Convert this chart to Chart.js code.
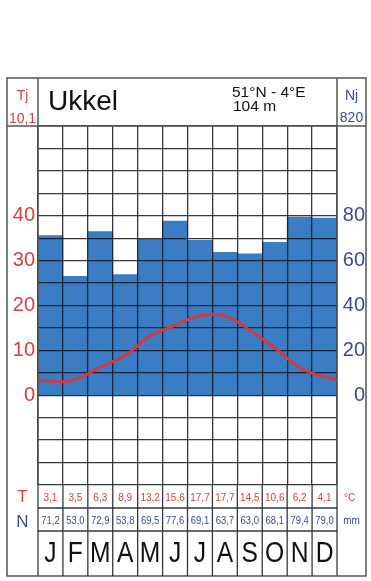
<!DOCTYPE html>
<html>
<head>
<meta charset="utf-8">
<script src="https://cdn.jsdelivr.net/npm/chart.js@4.4.1/dist/chart.umd.min.js"></script>
<style>
  html, body { margin: 0; padding: 0; background: #fff; }
  canvas { display: block; }
</style>
</head>
<body>
<canvas id="klimaat" width="371" height="581"></canvas>
<script>
var station = 'Ukkel';
var coords = '51°N - 4°E';
var altitude = '104 m';
var months = ['J', 'F', 'M', 'A', 'M', 'J', 'J', 'A', 'S', 'O', 'N', 'D'];
var tempC = [3.1, 3.5, 6.3, 8.9, 13.2, 15.6, 17.7, 17.7, 14.5, 10.6, 6.2, 4.1];
var precipMm = [71.2, 53.0, 72.9, 53.8, 69.5, 77.6, 69.1, 63.7, 63.0, 68.1, 79.4, 79.0];
var tempLabels = [0, 10, 20, 30, 40];
var precipLabels = [0, 20, 40, 60, 80];

var red = '#d4403f';
var blue = '#3c4b8e';
var frameColor = '#555';
var gridColor = 'rgba(20,20,30,0.85)';

function comma(v) { return v.toFixed(1).replace('.', ','); }

var tempMean = tempC.reduce(function (a, b) { return a + b; }, 0) / tempC.length;
var precipSum = precipMm.reduce(function (a, b) { return a + b; }, 0);

// bars sit in the middle of each month column
var barData = precipMm.map(function (v, i) { return { x: i + 0.5, y: v }; });
// year wraps around so the curve runs to both edges
var lineData = [{ x: -0.5, y: tempC[11] }]
    .concat(tempC.map(function (v, i) { return { x: i + 0.5, y: v }; }))
    .concat([{ x: 12.5, y: tempC[0] }]);

Chart.defaults.font.family = '"Liberation Sans", Arial, sans-serif';

var framePlugin = {
    id: 'frame',
    afterDraw: function (chart) {
        var ctx = chart.ctx;
        var area = chart.chartArea;
        var xs = chart.scales.x;

        // temperature line back on top of the grid
        ctx.save();
        ctx.beginPath();
        ctx.rect(area.left, area.top, area.right - area.left, area.bottom - area.top);
        ctx.clip();
        chart.getDatasetMeta(1).controller.draw();
        ctx.restore();

        var L = 7, R = 366, T = 78, B = 576;
        var row1 = 508, row2 = 531;
        ctx.save();
        ctx.strokeStyle = frameColor;
        ctx.lineWidth = 1.5;
        ctx.strokeRect(L, T, R - L, B - T);
        ctx.beginPath();
        ctx.moveTo(L, area.top); ctx.lineTo(R, area.top);
        ctx.moveTo(area.left, T); ctx.lineTo(area.left, B);
        ctx.moveTo(area.right, T); ctx.lineTo(area.right, B);
        ctx.stroke();

        ctx.strokeStyle = gridColor;
        ctx.lineWidth = 1.3;
        ctx.beginPath();
        ctx.moveTo(area.left, row1); ctx.lineTo(area.right, row1);
        ctx.moveTo(area.left, row2); ctx.lineTo(area.right, row2);
        for (var k = 1; k < 12; k++) {
            var px = xs.getPixelForValue(k);
            ctx.moveTo(px, area.bottom); ctx.lineTo(px, B);
        }
        ctx.stroke();

        // header
        var leftMid = (L + area.left) / 2;
        var rightMid = (area.right + R) / 2;
        ctx.textAlign = 'center';
        ctx.textBaseline = 'alphabetic';
        ctx.font = '14px "Liberation Sans", Arial, sans-serif';
        ctx.fillStyle = red;
        ctx.fillText('Tj', leftMid, 100);
        ctx.fillText(comma(tempMean), leftMid, 123);
        ctx.fillStyle = blue;
        ctx.fillText('Nj', rightMid, 100);
        ctx.fillText(String(Math.round(precipSum)), rightMid, 122);

        ctx.textAlign = 'left';
        ctx.fillStyle = '#111';
        ctx.font = '28px "Liberation Sans", Arial, sans-serif';
        ctx.fillText(station, 48, 110);
        ctx.font = '15.5px "Liberation Sans", Arial, sans-serif';
        ctx.fillText(coords, 232, 97);
        ctx.fillText(altitude, 233, 111);

        // bottom rows
        ctx.textAlign = 'center';
        ctx.font = '17px "Liberation Sans", Arial, sans-serif';
        ctx.fillStyle = red;
        ctx.fillText('T', leftMid, 502);
        ctx.fillStyle = blue;
        ctx.fillText('N', leftMid, 527);

        ctx.font = '10px "Liberation Sans", Arial, sans-serif';
        ctx.fillStyle = red;
        ctx.fillText('°C', rightMid - 2, 501);
        ctx.fillStyle = blue;
        ctx.fillText('mm', rightMid, 524);

        for (var i = 0; i < 12; i++) {
            var cx = xs.getPixelForValue(i + 0.5);
            ctx.font = '10px "Liberation Sans", Arial, sans-serif';
            ctx.fillStyle = red;
            ctx.fillText(comma(tempC[i]), cx, 501);

            ctx.save();
            ctx.translate(cx, 524);
            ctx.scale(0.9, 1);
            ctx.font = '10.5px "Liberation Sans", Arial, sans-serif';
            ctx.fillStyle = blue;
            ctx.fillText(comma(precipMm[i]), 0, 0);
            ctx.restore();

            ctx.save();
            ctx.translate(cx, 562);
            ctx.scale(0.85, 1);
            ctx.font = '29px "Liberation Sans", Arial, sans-serif';
            ctx.fillStyle = '#111';
            ctx.fillText(months[i], 0, 0);
            ctx.restore();
        }
        ctx.restore();
    }
};

var klimaat = document.getElementById('klimaat').getContext('2d');

var chart = new Chart(klimaat, {
    type: 'bar',
    data: {
        datasets: [{
            type: 'bar',
            data: barData,
            xAxisID: 'x',
            yAxisID: 'y2',
            backgroundColor: 'rgb(59,125,196)',
            borderWidth: 0,
            barPercentage: 1,
            categoryPercentage: 1,
        },
        {
            type: 'line',
            data: lineData,
            xAxisID: 'x',
            yAxisID: 'y',
            borderColor: 'rgb(214,56,62)',
            borderWidth: 3,
            pointRadius: 0,
            fill: false,
            tension: 0.4,
        }]
    },
    options: {
        responsive: false,
        animation: false,
        layout: { padding: { top: 126, left: 0, right: 6, bottom: 0 } },
        plugins: { legend: false, tooltip: { enabled: false } },
        scales: {
            x: {
                type: 'linear',
                min: 0,
                max: 12,
                offset: false,
                ticks: { display: false, stepSize: 1, autoSkip: false },
                grid: { color: gridColor, lineWidth: 1.3, drawTicks: false, offset: false, z: 1 },
                border: { display: false },
                afterFit: function (s) { s.height = 96; }
            },
            y: {
                position: 'left',
                min: -20,
                max: 60,
                ticks: {
                    stepSize: 5,
                    autoSkip: false,
                    padding: 3,
                    color: red,
                    font: { size: 20 },
                    callback: function (v) { return tempLabels.indexOf(v) >= 0 ? v : ''; }
                },
                grid: { color: gridColor, lineWidth: 1.3, drawTicks: false, z: 1 },
                border: { display: false },
                afterFit: function (s) { s.width = 38; }
            },
            y2: {
                position: 'right',
                min: -40,
                max: 120,
                ticks: {
                    stepSize: 10,
                    autoSkip: false,
                    crossAlign: 'far',
                    color: blue,
                    font: { size: 20 },
                    callback: function (v) { return precipLabels.indexOf(v) >= 0 ? v : ''; }
                },
                grid: { display: false, drawTicks: false },
                border: { display: false },
                afterFit: function (s) { s.width = 28; }
            }
        }
    },
    plugins: [framePlugin]
});
</script>
</body>
</html>
